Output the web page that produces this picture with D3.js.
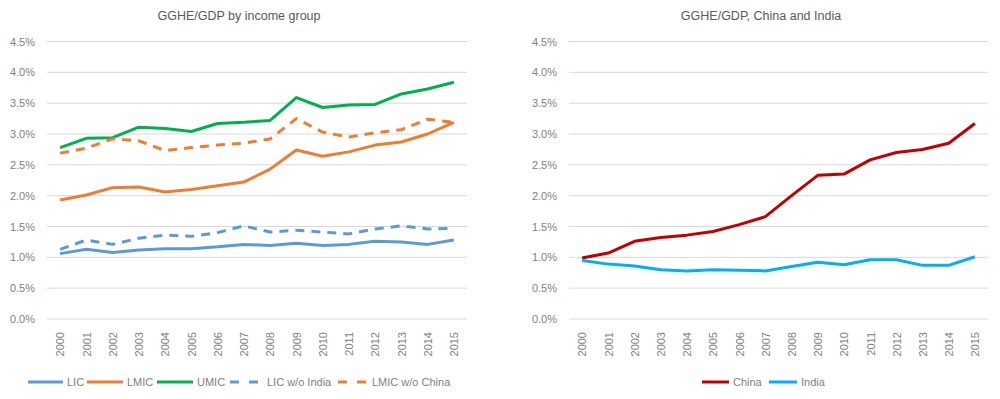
<!DOCTYPE html>
<html>
<head>
<meta charset="utf-8">
<script src="https://cdn.jsdelivr.net/npm/d3@7"></script>
<style>
  body { margin: 0; background: #fff; }
  text { font-family: "Liberation Sans", Arial, sans-serif; }
</style>
</head>
<body>
<svg id="chart" width="1000" height="399"></svg>
<script>
// years on the x axis
var years = d3.range(2000, 2016).map(String);
var yTicks = [0, 0.5, 1, 1.5, 2, 2.5, 3, 3.5, 4, 4.5];

// income group series (% of GDP)
var lic       = [1.06, 1.13, 1.08, 1.12, 1.14, 1.14, 1.17, 1.21, 1.19, 1.23, 1.19, 1.21, 1.26, 1.25, 1.21, 1.28];
var lmic      = [1.93, 2.01, 2.13, 2.14, 2.06, 2.10, 2.16, 2.22, 2.43, 2.74, 2.64, 2.71, 2.82, 2.87, 3.00, 3.19];
var umic      = [2.78, 2.93, 2.94, 3.11, 3.09, 3.04, 3.17, 3.19, 3.22, 3.59, 3.43, 3.47, 3.48, 3.65, 3.73, 3.84];
var licNoInd  = [1.13, 1.28, 1.21, 1.31, 1.36, 1.34, 1.40, 1.51, 1.41, 1.44, 1.41, 1.38, 1.46, 1.51, 1.46, 1.47];
var lmicNoChn = [2.69, 2.77, 2.92, 2.89, 2.73, 2.78, 2.82, 2.85, 2.92, 3.25, 3.03, 2.95, 3.02, 3.07, 3.24, 3.19];

// country series
var china = [0.99, 1.07, 1.26, 1.32, 1.36, 1.42, 1.53, 1.66, 2.00, 2.33, 2.35, 2.58, 2.70, 2.75, 2.85, 3.17];
var india = [0.95, 0.89, 0.86, 0.80, 0.78, 0.80, 0.79, 0.78, 0.85, 0.92, 0.88, 0.96, 0.96, 0.87, 0.87, 1.01];

var svg = d3.select("#chart");

function drawPanel(opt) {
  var g = svg.append("g");

  var x = d3.scalePoint().domain(years).range([opt.x0, opt.x1]).padding(0.5);
  var y = d3.scaleLinear().domain([0, 4.5]).range([319, 41.5]);

  // gridlines
  g.selectAll("line.grid")
    .data(yTicks)
    .enter()
    .append("line")
    .attr("class", "grid")
    .attr("x1", opt.x0).attr("x2", opt.x1)
    .attr("y1", function (d) { return y(d); })
    .attr("y2", function (d) { return y(d); })
    .attr("stroke", "#d9d9d9")
    .attr("stroke-width", 1);

  // y axis labels
  var yAxis = d3.axisLeft(y).tickValues(yTicks).tickSize(0).tickPadding(12)
    .tickFormat(function (d) { return d.toFixed(1) + "%"; });
  var ya = g.append("g").attr("transform", "translate(" + opt.x0 + ",0)").call(yAxis);
  ya.select(".domain").remove();
  ya.selectAll("text").style("font-size", "11px").attr("fill", "#7f7f7f");

  // x axis labels, rotated
  var xAxis = d3.axisBottom(x).tickSize(0).tickPadding(0);
  var xa = g.append("g").attr("transform", "translate(0,319)").call(xAxis);
  xa.select(".domain").remove();
  xa.selectAll("text")
    .style("font-size", "11px")
    .attr("fill", "#7f7f7f")
    .attr("text-anchor", "end")
    .attr("transform", "rotate(-90)")
    .attr("x", -13)
    .attr("y", 0)
    .attr("dy", "0.35em");

  var line = d3.line()
    .x(function (d, i) { return x(years[i]); })
    .y(function (d) { return y(d); });

  opt.series.forEach(function (s) {
    g.append("path")
      .datum(s.values)
      .attr("d", line)
      .attr("fill", "none")
      .attr("stroke", s.color)
      .attr("stroke-width", 3)
      .attr("stroke-linejoin", "round")
      .attr("stroke-dasharray", s.dashed ? "9,7" : null);
  });

  // title
  g.append("text")
    .attr("x", opt.titleX)
    .attr("y", 20)
    .attr("text-anchor", "middle")
    .attr("fill", "#595959")
    .style("font-size", "12.5px")
    .text(opt.title);

  // legend
  var lg = g.append("g").attr("transform", "translate(0,382)");
  opt.series.forEach(function (s) {
    lg.append("line")
      .attr("x1", s.lx).attr("x2", s.lx + s.lw)
      .attr("y1", 0).attr("y2", 0)
      .attr("stroke", s.color)
      .attr("stroke-width", 3)
      .attr("stroke-dasharray", s.dashed ? "9,10" : null);
    lg.append("text")
      .attr("x", s.lx + s.lw + 4)
      .attr("y", 0)
      .attr("dy", "0.35em")
      .attr("fill", "#7f7f7f")
      .style("font-size", "11px")
      .text(s.name);
  });
}

drawPanel({
  x0: 47, x1: 467, titleX: 239,
  title: "GGHE/GDP by income group",
  series: [
    { name: "LIC", values: lic, color: "#5b9bd5", lx: 28, lw: 35 },
    { name: "LMIC", values: lmic, color: "#ed7d31", lx: 87, lw: 36 },
    { name: "UMIC", values: umic, color: "#00b050", lx: 157, lw: 36 },
    { name: "LIC w/o India", values: licNoInd, color: "#5b9bd5", dashed: true, lx: 230, lw: 33 },
    { name: "LMIC w/o China", values: lmicNoChn, color: "#ed7d31", dashed: true, lx: 338, lw: 30 }
  ]
});

drawPanel({
  x0: 569, x1: 988, titleX: 761,
  title: "GGHE/GDP, China and India",
  series: [
    { name: "China", values: china, color: "#c00000", lx: 702, lw: 27 },
    { name: "India", values: india, color: "#00b0f0", lx: 769, lw: 28 }
  ]
});
</script>
</body>
</html>
